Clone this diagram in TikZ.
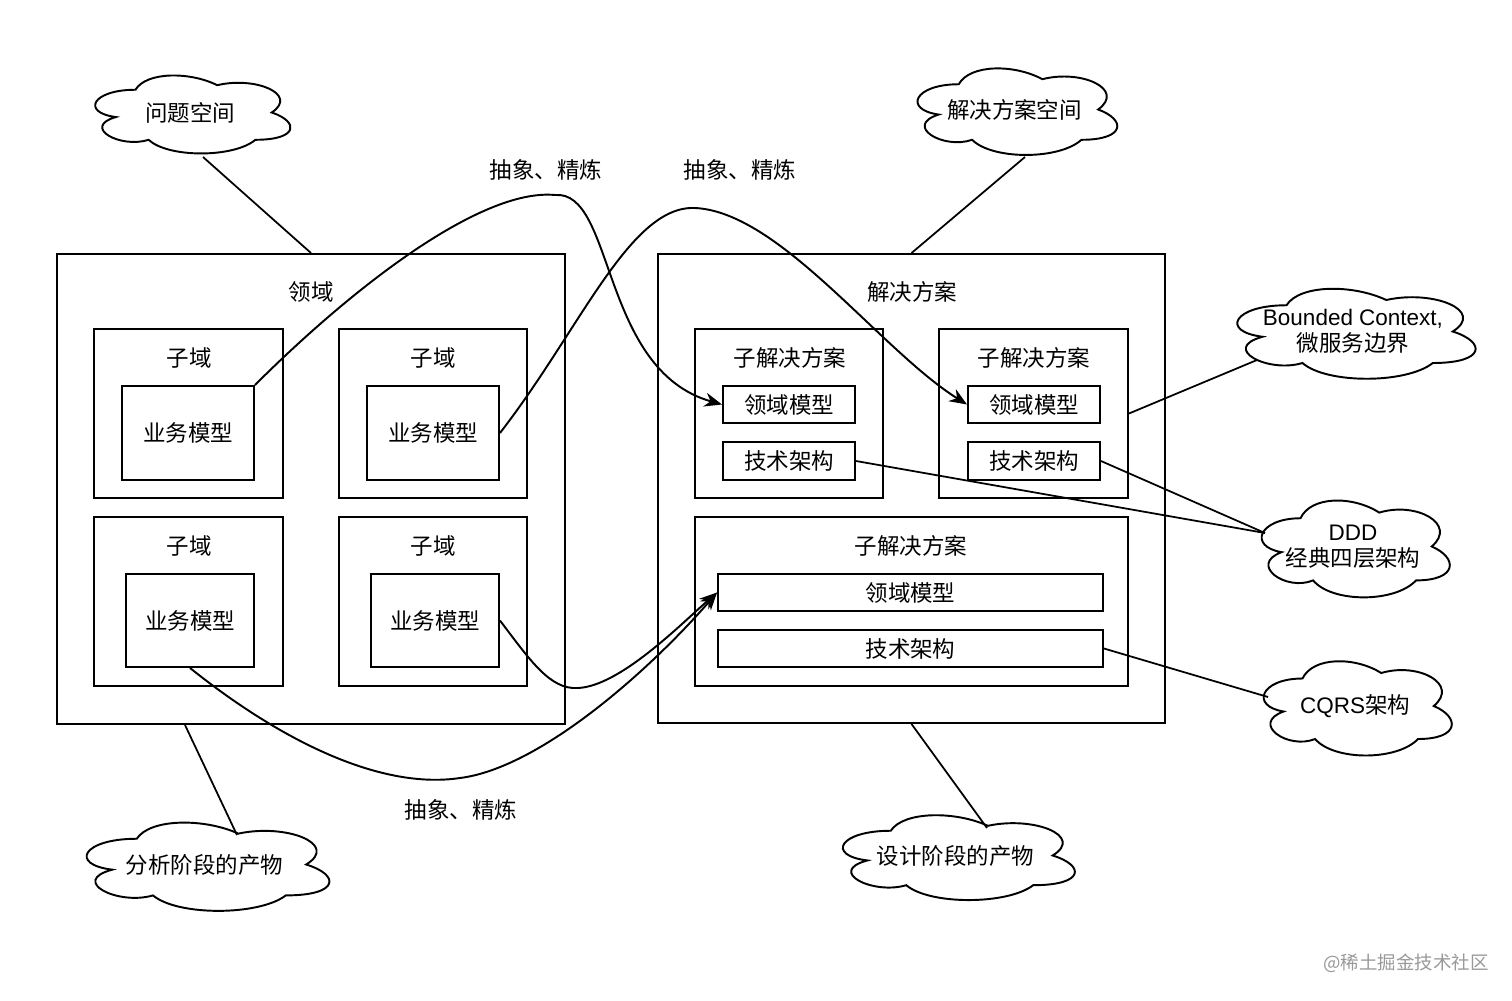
\documentclass[tikz,border=0pt]{standalone}
\usepackage{fontspec}
\setmainfont{Liberation Sans}
\newfontfamily\cjk{Noto Sans CJK SC}
\usetikzlibrary{arrows.meta}
\tikzset{
  px/.style={x={(0.02cm,0)},y={(0,-0.02cm)}},
  bx/.style={draw,rectangle,inner sep=0pt,line width=1.1pt},
  lbl/.style={inner sep=1pt,font=\fontsize{12.8}{15}\selectfont\cjk},
  conn/.style={line width=1pt},
  flow/.style={line width=1.1pt,-{Stealth[length=10pt,width=8pt]}},
  cloudline/.style={line width=1.1pt},
}
\newcommand\bxn[6]{\node[bx,minimum width={(#4-#2)*0.02cm},minimum height={(#5-#3)*0.02cm},font=\fontsize{12.8}{15}\selectfont\cjk] (#1) at ({(#2+#4)/2},{(#3+#5)/2}) {#6};}
\newcommand\cloudn[6]{%
\draw[cloudline] ({#2+.25*#4},{#3+.25*#5}) .. controls ({#2+.05*#4},{#3+.25*#5}) and ({#2},{#3+.5*#5}) .. ({#2+.16*#4},{#3+.55*#5}) .. controls ({#2},{#3+.66*#5}) and ({#2+.18*#4},{#3+.9*#5}) .. ({#2+.31*#4},{#3+.8*#5}) .. controls ({#2+.4*#4},{#3+#5}) and ({#2+.7*#4},{#3+#5}) .. ({#2+.8*#4},{#3+.8*#5}) .. controls ({#2+#4},{#3+.8*#5}) and ({#2+#4},{#3+.6*#5}) .. ({#2+.875*#4},{#3+.5*#5}) .. controls ({#2+#4},{#3+.3*#5}) and ({#2+.8*#4},{#3+.1*#5}) .. ({#2+.625*#4},{#3+.2*#5}) .. controls ({#2+.5*#4},{#3+.05*#5}) and ({#2+.3*#4},{#3+.05*#5}) .. cycle;
\node[align=center,inner sep=1pt,font=\fontsize{12.8}{15}\selectfont] (#1) at ({#2+.5*#4},{#3+.5*#5}) {#6};}
\begin{document}
\begin{tikzpicture}[px]
\useasboundingbox[fill=white] (0,0) rectangle (1512,1001);
% left domain
\bxn{dom}{57}{254}{565}{724}{}
\node[lbl] (domL) at (311,292) {领域};
\bxn{sd1}{94}{329}{283}{498}{}
\bxn{sd2}{339}{329}{527}{498}{}
\bxn{sd3}{94}{517}{283}{686}{}
\bxn{sd4}{339}{517}{527}{686}{}
\node[lbl] (sd1L) at (189,358) {子域};
\node[lbl] (sd2L) at (433,358) {子域};
\node[lbl] (sd3L) at (189,546) {子域};
\node[lbl] (sd4L) at (433,546) {子域};
\bxn{bm1}{122}{386}{254}{480}{业务模型}
\bxn{bm2}{367}{386}{499}{480}{业务模型}
\bxn{bm3}{126}{574}{254}{667}{业务模型}
\bxn{bm4}{371}{574}{499}{667}{业务模型}
% right solution
\bxn{sol}{658}{254}{1165}{723}{}
\node[lbl] (solL) at (912,292) {解决方案};
\bxn{ss1}{695}{329}{883}{498}{}
\bxn{ss2}{939}{329}{1128}{498}{}
\bxn{ss3}{695}{517}{1128}{686}{}
\node[lbl] (ss1L) at (790,358) {子解决方案};
\node[lbl] (ss2L) at (1034,358) {子解决方案};
\node[lbl] (ss3L) at (911,546) {子解决方案};
\bxn{dm1}{723}{386}{855}{423}{领域模型}
\bxn{ta1}{723}{442}{855}{480}{技术架构}
\bxn{dm2}{968}{386}{1100}{423}{领域模型}
\bxn{ta2}{968}{442}{1100}{480}{技术架构}
\bxn{dm3}{718}{574}{1103}{611}{领域模型}
\bxn{ta3}{718}{630}{1103}{667}{技术架构}
% clouds
\cloudn{cq}{81}{67}{218}{91}{\cjk 问题空间}
\cloudn{cs}{903}{59}{223}{101}{\cjk 解决方案空间}
\cloudn{cb}{1220}{279}{266}{105}{Bounded Context,\\\cjk 微服务边界}
\cloudn{cd}{1248}{490}{210}{113}{DDD\\\cjk 经典四层架构}
\cloudn{cc}{1250}{651}{210}{110}{CQRS{\cjk 架构}}
\cloudn{ca}{69}{813}{271}{103}{\cjk 分析阶段的产物}
\cloudn{ce}{826}{806}{259}{99}{\cjk 设计阶段的产物}
% cloud attach points
\coordinate (cqP) at (203,157);
\coordinate (csP) at (1025,157);
\coordinate (cbP) at (1257,360);
\coordinate (cdP) at (1265,533);
\coordinate (ccP) at (1268,697);
\coordinate (caP) at (237,835);
\coordinate (ceP) at (987,828);
\draw[conn] (cqP) -- (dom.north);
\draw[conn] (csP) -- (sol.north);
\draw[conn] (cbP) -- (ss2.east);
\draw[conn] (cdP) -- (ta1.east);
\draw[conn] (cdP) -- (ta2.east);
\draw[conn] (ccP) -- (ta3.east);
\draw[conn] (caP) -- (dom.south west -| 185,0);
\draw[conn] (ceP) -- (sol.south);
% flows
\draw[flow] (bm1.north east) .. controls (350,290) and (480,188) .. (555,195) .. controls (615,190) and (600,370) .. (dm1.west);
\draw[flow] (bm2.east) .. controls (580,330) and (630,205) .. (695,208) .. controls (780,212) and (880,350) .. (dm2.west);
\draw[flow] (bm4.east) .. controls (530,660) and (550,690) .. (578,688) .. controls (620,686) and (680,625) .. (dm3.west);
\draw[flow] (bm3.south) .. controls (280,740) and (380,790) .. (460,778) .. controls (540,768) and (650,670) .. (dm3.west);
% labels
\node[lbl] (a1) at (546,170) {抽象、精炼};
\node[lbl] (a2) at (740,170) {抽象、精炼};
\node[lbl] (a3) at (461,810) {抽象、精炼};
\node[font=\fontsize{10.5}{13}\selectfont\cjk,text=black!40] (wm) at (1406,963) {@稀土掘金技术社区};
\end{tikzpicture}
\end{document}
